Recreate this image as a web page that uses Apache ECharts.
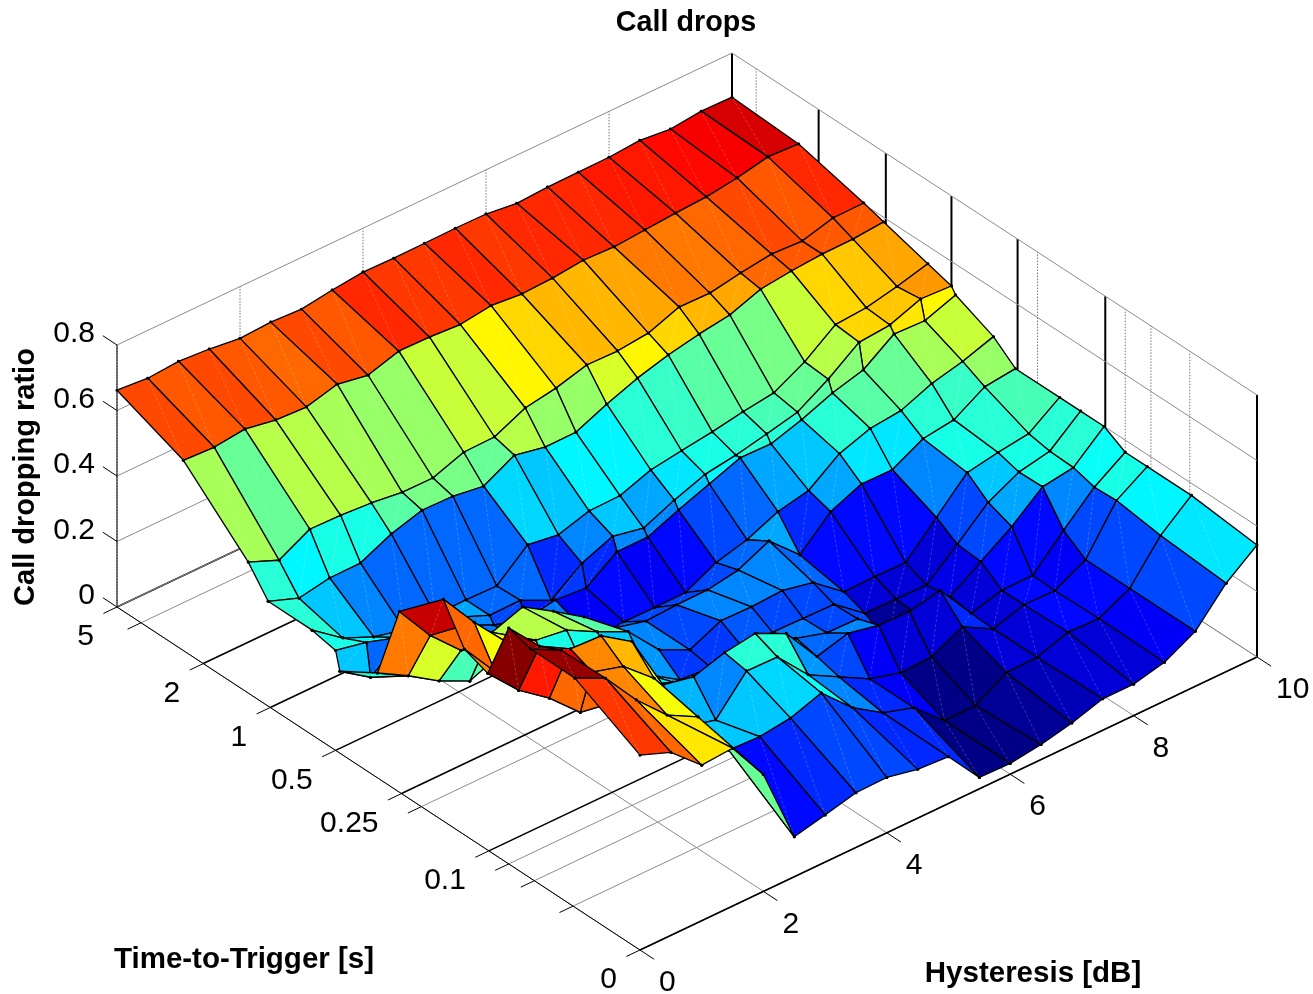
<!DOCTYPE html>
<html><head><meta charset="utf-8">
<style>html,body{margin:0;padding:0;background:#fff}#c{width:1313px;height:994px}</style>
<script src="https://cdn.jsdelivr.net/npm/echarts@6/dist/echarts.min.js"></script>
</head><body><div id="c"></div>
<script>
// ---- data: call dropping ratio, one row per Time-to-Trigger value, one column per Hysteresis value
const hysteresis = [0,0.5,1,1.5,2,2.5,3,3.5,4,4.5,5,5.5,6,6.5,7,7.5,8,8.5,9,9.5,10];
const ttt = [0,0.04,0.064,0.08,0.1,0.128,0.16,0.256,0.32,0.48,0.512,0.64,1.024,1.28,2.56,5.12];
// the reference's Time-to-Trigger axis is a non-linear scale: fraction of axis length per ttt value
const tttScale = [0,0.125,0.209,0.251,0.291,0.336,0.376,0.46,0.502,0.574,0.582,0.627,0.711,0.749,0.873,1];
const r00=[.595,.559,.475,.482,.357,.122,.144,.167,.169,.149,.143,.035,.033,.046,.067,.096,.096,.118,.168,.270,.342];
const r01=[.700,.654,.543,.452,.402,.256,.252,.264,.296,.207,.146,.117,.033,.034,.090,.092,.124,.121,.168,.285,.363];
const r02=[.700,.651,.540,.513,.432,.240,.215,.320,.318,.219,.168,.117,.091,.095,.142,.091,.120,.118,.168,.304,.363];
const r03=[.720,.620,.567,.562,.500,.323,.303,.332,.346,.301,.186,.212,.192,.190,.209,.095,.120,.121,.214,.301,.363];
const r04=[.540,.444,.375,.287,.270,.280,.245,.216,.224,.241,.200,.172,.170,.050,.090,.104,.166,.228,.305,.319,.400];
const r05=[.567,.453,.470,.310,.310,.250,.220,.160,.153,.173,.171,.169,.167,.095,.094,.092,.172,.255,.303,.322,.400];
const r06=[.677,.562,.460,.418,.404,.354,.310,.210,.165,.209,.207,.212,.192,.119,.121,.119,.212,.304,.321,.334,.400];
const r07=[.552,.434,.344,.354,.387,.329,.267,.189,.165,.170,.171,.187,.231,.144,.231,.271,.270,.320,.333,.389,.400];
const r08=[.320,.267,.207,.162,.200,.180,.200,.109,.119,.118,.119,.166,.191,.232,.252,.320,.352,.362,.400,.423,.454];
const r09=[.250,.187,.256,.257,.212,.168,.138,.155,.147,.213,.213,.251,.286,.321,.319,.348,.385,.411,.476,.472,.506];
const r10=[.305,.285,.255,.248,.228,.189,.190,.146,.214,.252,.232,.273,.307,.321,.341,.363,.419,.487,.495,.530,.525];
const r11=[.320,.251,.210,.187,.188,.189,.187,.268,.254,.282,.284,.318,.332,.345,.362,.375,.425,.494,.501,.521,.546];
const r12=[.320,.285,.302,.303,.347,.375,.373,.359,.409,.389,.390,.431,.466,.492,.511,.525,.559,.570,.577,.578,.586];
const r13=[.400,.361,.411,.409,.402,.390,.389,.423,.425,.469,.485,.511,.509,.519,.554,.552,.569,.582,.577,.603,.604];
const r14=[.581,.576,.587,.570,.565,.590,.573,.602,.600,.594,.607,.598,.602,.612,.608,.615,.622,.627,.640,.660,.655];
const r15=[.662,.654,.661,.654,.642,.647,.642,.656,.666,.664,.665,.666,.665,.653,.658,.659,.660,.667,.657,.667,.665];
const drops=[r00,r01,r02,r03,r04,r05,r06,r07,r08,r09,r10,r11,r12,r13,r14,r15];

const zTicks=[0,0.2,0.4,0.6,0.8];
const zMax=0.8;
const hTicks=[0,2,4,6,8,10];
// Time-to-Trigger ticks: axis fraction, label ('' = unlabelled)
const tTickPos=[0,0.128,0.202,0.251,0.289,0.418,0.456,0.582,0.707,0.835,0.954,1];
const tTickLab=['0','','','','0.1','','0.25','0.5','1','2','','5'];
const titleText='Call drops', xName='Hysteresis [dB]', yName='Time-to-Trigger [s]', zName='Call dropping ratio';

// ---- fixed view projection of the 3-D box onto the flat cartesian plane
function proj(h,s,z){
  const u=h/10;
  return [640+617*u-523*s-2*u*s, 950-293*u-343*s+u*s-z/zMax*262];
}
const flat=drops.reduce((a,b)=>a.concat(b),[]);
const cMin=Math.min.apply(null,flat), cMax=Math.max.apply(null,flat);
function jet(v){
  let t=(v-cMin)/(cMax-cMin);
  t=(Math.min(63,Math.floor(t*64))+0.5)/64;
  const c=x=>Math.round(255*Math.max(0,Math.min(1,x)));
  return 'rgb('+c(Math.min(4*t-1.5,-4*t+4.5))+','+c(Math.min(4*t-0.5,-4*t+3.5))+','+c(Math.min(4*t+0.5,-4*t+2.5))+')';
}
// surface cells, back to front
const cells=[];
for(let r=0;r<ttt.length-1;r++)for(let k=0;k<hysteresis.length-1;k++)cells.push([r,k]);
cells.sort((a,b)=>proj(hysteresis[a[1]]+.25,(tttScale[a[0]]+tttScale[a[0]+1])/2,0)[1]-proj(hysteresis[b[1]]+.25,(tttScale[b[0]]+tttScale[b[0]+1])/2,0)[1]);

// box lines: [h0,s0,z0,h1,s1,z1,kind]
const GRAY='#8c8c8c';
const lines=[];
hTicks.forEach(h=>{
  lines.push([h,0,0,h,1,0,0]);
  lines.push([h,1,0,h,1,zMax,2]);
  lines.push([h,0,0,h,-0.027,0,3]);
});
tTickPos.forEach((s,i)=>{
  const strong=tTickLab[i]!=='';
  lines.push([0,s,0,10,s,0,strong?1:0]);
  lines.push([10,s,0,10,s,zMax,strong?4:2]);
  lines.push([0,s,0,-0.22,s,0,3]);
});
zTicks.forEach(z=>{
  lines.push([0,1,z,10,1,z,0]);
  lines.push([10,1,z,10,0,z,0]);
  lines.push([0,1,z,0,1.027,z,3]);
});
lines.push([0,0,0,10,0,0,3]);lines.push([0,0,0,0,1,0,3]);lines.push([0,1,0,0,1,zMax,3]);

const labels=[];
zTicks.forEach(z=>labels.push([0,1,z,String(z),'right',-22,-11]));
tTickPos.forEach((s,i)=>{if(tTickLab[i])labels.push([0,s,0,tTickLab[i],'right',-23,30]);});
hTicks.forEach(h=>labels.push([h,0,0,String(h),'left',19,33]));

const FONT='"Liberation Sans",Arial,sans-serif';
const chart=echarts.init(document.getElementById('c'),null,{renderer:'canvas'});
chart.setOption({
  animation:false,backgroundColor:'#fff',
  grid:{left:0,right:0,top:0,bottom:0},
  xAxis:{type:'value',min:0,max:1313,show:false},
  yAxis:{type:'value',min:0,max:994,inverse:true,show:false},
  series:[
   {type:'custom',coordinateSystem:'cartesian2d',clip:false,z:1,silent:true,data:lines.map((l,i)=>[i]),
    renderItem(p,api){
      const l=lines[api.value(0)];
      const a=api.coord(proj(l[0],l[1],l[2])),b=api.coord(proj(l[3],l[4],l[5]));
      const st=[{stroke:GRAY,lineWidth:1},{stroke:'#000',lineWidth:1.6},{stroke:'#777',lineWidth:1,lineDash:[1.5,1.5]},{stroke:'#000',lineWidth:1},{stroke:'#000',lineWidth:2}][l[6]];
      return {type:'line',shape:{x1:a[0],y1:a[1],x2:b[0],y2:b[1]},style:Object.assign({fill:null},st)};
    }},
   {type:'custom',coordinateSystem:'cartesian2d',clip:false,z:2,silent:true,data:cells,
    renderItem(p,api){
      const r=api.value(0),k=api.value(1);
      const pt=(rr,kk)=>api.coord(proj(hysteresis[kk],tttScale[rr],drops[rr][kk]));
      const A=pt(r,k),B=pt(r,k+1),C=pt(r+1,k+1),D=pt(r+1,k);
      const dot=q=>({type:'circle',shape:{cx:q[0],cy:q[1],r:1.5},style:{fill:'#000'}});
      return {type:'group',children:[
        {type:'polygon',shape:{points:[A,B,C,D]},style:{fill:jet(drops[r][k]),stroke:'#000',lineWidth:1.3,lineJoin:'round'}},
        {type:'line',shape:{x1:A[0],y1:A[1],x2:C[0],y2:C[1]},style:{stroke:'rgba(255,255,255,0.3)',lineWidth:0.7,lineDash:[3,2],fill:null}},
        dot(A),dot(B),dot(C),dot(D)]};
    }},
   {type:'custom',coordinateSystem:'cartesian2d',clip:false,z:3,silent:true,data:labels.map((l,i)=>[i]),
    renderItem(p,api){
      const l=labels[api.value(0)];const q=api.coord(proj(l[0],l[1],l[2]));
      return {type:'text',x:q[0]+l[5],y:q[1]+l[6],style:{text:l[3],fontFamily:FONT,fontSize:30,fill:'#000',align:l[4],verticalAlign:'middle'}};
    }}
  ],
  graphic:[
   {type:'text',x:686,y:23,style:{text:titleText,fontFamily:FONT,fontSize:28.7,fontWeight:'bold',fill:'#000',align:'center',verticalAlign:'middle'}},
   {type:'text',x:244,y:960,style:{text:yName,fontFamily:FONT,fontSize:29.5,fontWeight:'bold',fill:'#000',align:'center',verticalAlign:'middle'}},
   {type:'text',x:1033,y:974,style:{text:xName,fontFamily:FONT,fontSize:29.5,fontWeight:'bold',fill:'#000',align:'center',verticalAlign:'middle'}},
   {type:'text',x:26,y:477,rotation:Math.PI/2,style:{text:zName,fontFamily:FONT,fontSize:29,fontWeight:'bold',fill:'#000',align:'center',verticalAlign:'middle'}}
  ]
});
</script></body></html>
